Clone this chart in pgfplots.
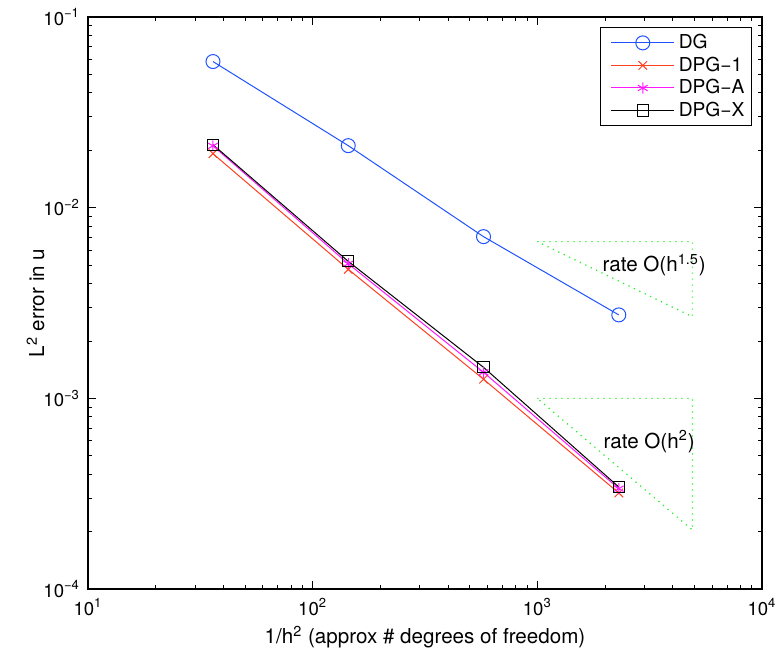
\documentclass[border=0pt]{standalone}
\usepackage{fontspec}
\setmainfont{TeX Gyre Heros}
\usepackage{pgfplots}
\pgfplotsset{compat=1.18}
\definecolor{mblue}{rgb}{0.12,0.32,1}
\definecolor{mred}{rgb}{1,0.25,0.12}
\definecolor{mmag}{rgb}{1,0.1,1}
\definecolor{mgreen}{rgb}{0.1,0.95,0.1}
\newcommand\decade[1]{\pgfmathtruncatemacro\ee{round(#1/ln(10))}%
  10\textsuperscript{\ifnum\ee<0 −\number-\ee\else\ee\fi}}
\begin{document}
\begin{tikzpicture}
\begin{axis}[
  scale only axis, width=337pt, height=286pt,
  xmode=log, ymode=log,
  xmin=10, xmax=10000, ymin=1e-4, ymax=1e-1,
  xtick={10,100,1000,10000}, ytick={1e-4,1e-3,1e-2,1e-1},
  minor xtick={20,30,40,50,60,70,80,90,200,300,400,500,600,700,800,900,2000,3000,4000,5000,6000,7000,8000,9000},
  minor ytick={2e-4,3e-4,4e-4,5e-4,6e-4,7e-4,8e-4,9e-4,2e-3,3e-3,4e-3,5e-3,6e-3,7e-3,8e-3,9e-3,2e-2,3e-2,4e-2,5e-2,6e-2,7e-2,8e-2,9e-2},
  axis line style={line width=0.7pt},
  tick align=inside, tick style={black, line width=0.4pt},
  major tick length=4pt, minor tick length=2.2pt,
  font=\fontsize{10.3}{12}\selectfont,
  ticklabel style={font=\fontsize{9.3}{11}\selectfont},
  xticklabel={\decade{\tick}},
  yticklabel={\decade{\tick}},
  xticklabel style={yshift=-1.2pt},
  yticklabel style={xshift=-0.5pt},
  xlabel={1/h\textsuperscript{2} (approx \# degrees of freedom)},
  ylabel={L\textsuperscript{2} error in u},
  xlabel style={at={(axis description cs:0.5,-0.084)}, anchor=center},
  ylabel style={at={(axis description cs:-0.078,0.5)}, anchor=center},
  legend style={at={(1,1)}, anchor=north east, xshift=-5pt, yshift=-5pt,
    draw=black, line width=0.6pt, inner xsep=1.5pt, inner ysep=1.3pt, row sep=-1.4pt,
    font=\fontsize{9.6}{11}\selectfont},
  legend cell align=left,
  legend image code/.code={\path (-3.5pt,0pt);\draw[mark repeat=2,mark phase=2] plot coordinates {(0pt,0pt)(15.75pt,0pt)(31.5pt,0pt)};},
]
\addplot[mblue, line width=0.5pt, mark=o, mark size=3.5pt] coordinates {
  (36,0.0584) (144,0.02115) (576,0.00705) (2304,0.00274)};
\addlegendentry{DG}
\addplot[mred, line width=0.5pt, mark=x, mark size=3pt] coordinates {
  (36,0.0192) (144,0.00475) (576,0.00126) (2304,0.000319)};
\addlegendentry{DPG−1}
\addplot[mmag, line width=0.5pt, mark=asterisk, mark size=2.8pt] coordinates {
  (36,0.0211) (144,0.00508) (576,0.00137) (2304,0.000336)};
\addlegendentry{DPG−A}
\addplot[black, line width=0.5pt, mark=square, mark size=2.8pt] coordinates {
  (36,0.0214) (144,0.00523) (576,0.001455) (2304,0.000343)};
\addlegendentry{DPG−X}
\addplot[mgreen, line width=0.6pt, dash pattern=on 0.6pt off 2.4pt, forget plot] coordinates {
  (1000,0.00664) (4900,0.00664) (4900,0.00268) (1000,0.00664)};
\addplot[mgreen, line width=0.6pt, dash pattern=on 0.6pt off 2.4pt, forget plot] coordinates {
  (1000,0.001) (4900,0.001) (4900,0.000204) (1000,0.001)};
\node at (axis cs:3311,0.00499) {rate O(h\textsuperscript{1.5})};
\node at (axis cs:3146,0.000594) {rate O(h\textsuperscript{2})};
\end{axis}
\pgfresetboundingbox
\path ([shift={(-44pt,-33.5pt)}]current axis.south west) rectangle ([shift={(7pt,8.5pt)}]current axis.north east);
\end{tikzpicture}
\end{document}
